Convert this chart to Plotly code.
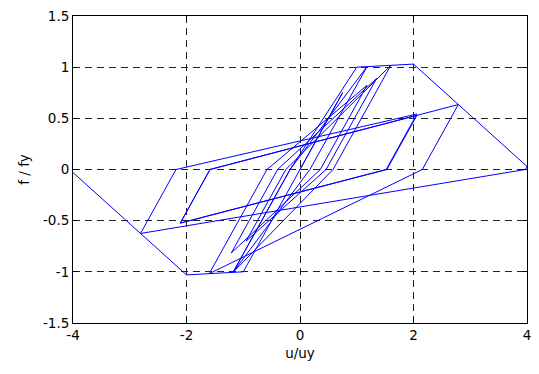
import plotly.graph_objects as go

# Hysteresis path vertices (normalised displacement u/uy, force f/fy)
u_vals = [0.0, 0.75, -1.0, -1.18, -0.175, 1.0, 1.18, 0.175, -1.18, -0.175,
          1.18, 1.6, 0.582, -1.18, -1.6, -0.582, 1.18, 0.358, -1.21, -0.395,
          1.35, 0.46, -0.95, -0.25, 1.6, 2.0, 2.79, 2.155, -1.6, -2.0,
          -2.81, -2.185, 2.06, 1.518, -2.11, -1.586, 2.06, 1.531, -2.11, -1.586,
          2.79, 4.0, 3.97, -2.81, -4.0]
f_vals = [0.0, 0.75, -1.0, -1.005, 0.0, 1.0, 1.005, 0.0, -1.005, 0.0,
          1.005, 1.018, 0.0, -1.005, -1.018, 0.0, 0.822, 0.0, -0.815, 0.0,
          0.89, 0.0, -0.70, 0.0, 1.018, 1.03, 0.635, 0.0, -1.018, -1.03,
          -0.625, 0.0, 0.542, 0.0, -0.524, 0.0, 0.529, 0.0, -0.524, 0.0,
          0.635, 0.03, 0.0, -0.625, -0.03]

x_ticks = [-4, -2, 0, 2, 4]
x_ticktext = ["-4", "-2", "0", "2", "4"]
y_ticks = [-1.5, -1, -0.5, 0, 0.5, 1, 1.5]
y_ticktext = ["-1.5", "-1", "-0.5", "0", "0.5", "1", "1.5"]

FONT = "DejaVu Sans, Liberation Sans, Arial, sans-serif"

fig = go.Figure()
fig.add_trace(go.Scatter(x=u_vals, y=f_vals, mode="lines",
                         line=dict(color="#0000FF", width=1),
                         showlegend=False, hoverinfo="skip"))

axis_common = dict(showline=True, linecolor="black", linewidth=1, mirror="ticks",
                   ticks="inside", ticklen=5, tickcolor="black", tickwidth=1,
                   showgrid=True, gridcolor="#222222", gridwidth=1, griddash="7px,5px",
                   zeroline=False, tickfont=dict(family=FONT, size=13.5, color="black"))

fig.update_layout(
    width=539, height=374,
    margin=dict(l=73, r=8, t=12, b=51),
    paper_bgcolor="white", plot_bgcolor="white",
    font=dict(family=FONT, size=13.5, color="black"),
    xaxis=dict(range=[-4, 4], tickvals=x_ticks, ticktext=x_ticktext,
               title=dict(text="u/uy", standoff=6, font=dict(family=FONT, size=13.5)),
               **axis_common),
    yaxis=dict(range=[-1.5, 1.5], tickvals=y_ticks, ticktext=y_ticktext,
               title=dict(text="f / fy", standoff=10, font=dict(family=FONT, size=13.5)),
               **axis_common),
)

fig.write_html("out.html")
